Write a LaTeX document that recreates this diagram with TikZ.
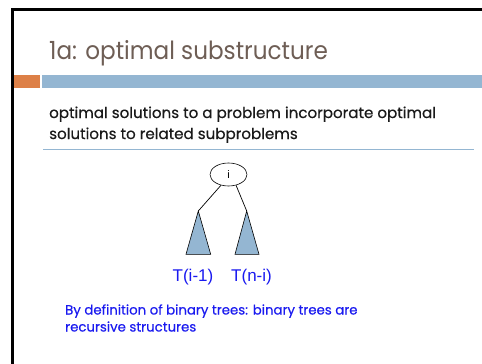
\documentclass[tikz,border=0pt]{standalone}
\usepackage{fontspec}
\usetikzlibrary{shapes.geometric}
\setmainfont{Poppins}
\newfontfamily\bodyf[FakeBold=0.4]{Poppins}
\newfontfamily\arialf{Liberation Sans}
\definecolor{titlec}{HTML}{6E5E55}
\definecolor{orangec}{HTML}{DD8047}
\definecolor{bluec}{HTML}{94B6D2}
\definecolor{textc}{HTML}{1A1A1A}
\definecolor{labc}{HTML}{1A1AF0}
\begin{document}
\begin{tikzpicture}[x=1pt,y=-1pt,
  tri/.style={draw=black,fill=bluec,line width=0.6pt,line join=miter},
  edge/.style={draw=black,line width=0.7pt},
  bodytext/.style={anchor=base west,inner sep=0pt,text=textc,font=\bodyf\fontsize{15.1}{18}\selectfont},
  notetext/.style={anchor=base west,inner sep=0pt,text=labc,font=\bodyf\fontsize{13.3}{16}\selectfont},
  tlabel/.style={font=\arialf\fontsize{17}{20}\selectfont,text=labc,inner sep=0pt}]
\useasboundingbox (0,0) rectangle (482,364);
\fill[white] (0,0) rectangle (482,364);
% frame lines
\fill[black] (11,8) rectangle (482,11);
\fill[black] (11,8) rectangle (14,364);
% bars
\fill[orangec] (14,75) rectangle (40,88);
\fill[bluec] (42,75) rectangle (482,88);
% title
\node[anchor=base west,inner sep=0pt,text=titlec,font=\fontsize{25}{30}\selectfont] (title) at (49,59) {\scalebox{0.925}[1]{1a: optimal substructure}};
% body
\node[bodytext] (body1) at (49,118) {optimal solutions to a problem incorporate optimal};
\node[bodytext] (body2) at (49,139) {solutions to related subproblems};
\draw[bluec,line width=1pt] (43,149) -- (474,149);
% tree
\node[draw=black,ellipse,line width=0.6pt,minimum width=37pt,minimum height=23pt,inner sep=0pt,font=\arialf\fontsize{11}{13}\selectfont] (root) at (228.5,174.5) {i};
\coordinate (la) at (198.3,211);
\coordinate (ra) at (246.7,211);
\draw[tri] (la) -- (186,254.3) -- (210.7,254.3) -- cycle;
\draw[tri] (ra) -- (235,254.3) -- (259,254.3) -- cycle;
\draw[edge] (root.{235}) -- (la);
\draw[edge] (root.{-55}) -- (ra);
\node[tlabel] (tl) at (193,277) {T(i-1)};
\node[tlabel] (tr) at (251.5,277) {T(n-i)};
% note
\node[notetext] (note1) at (65,314.5) {By definition of binary trees: binary trees are};
\node[notetext] (note2) at (65,331.5) {recursive structures};
\end{tikzpicture}
\end{document}
